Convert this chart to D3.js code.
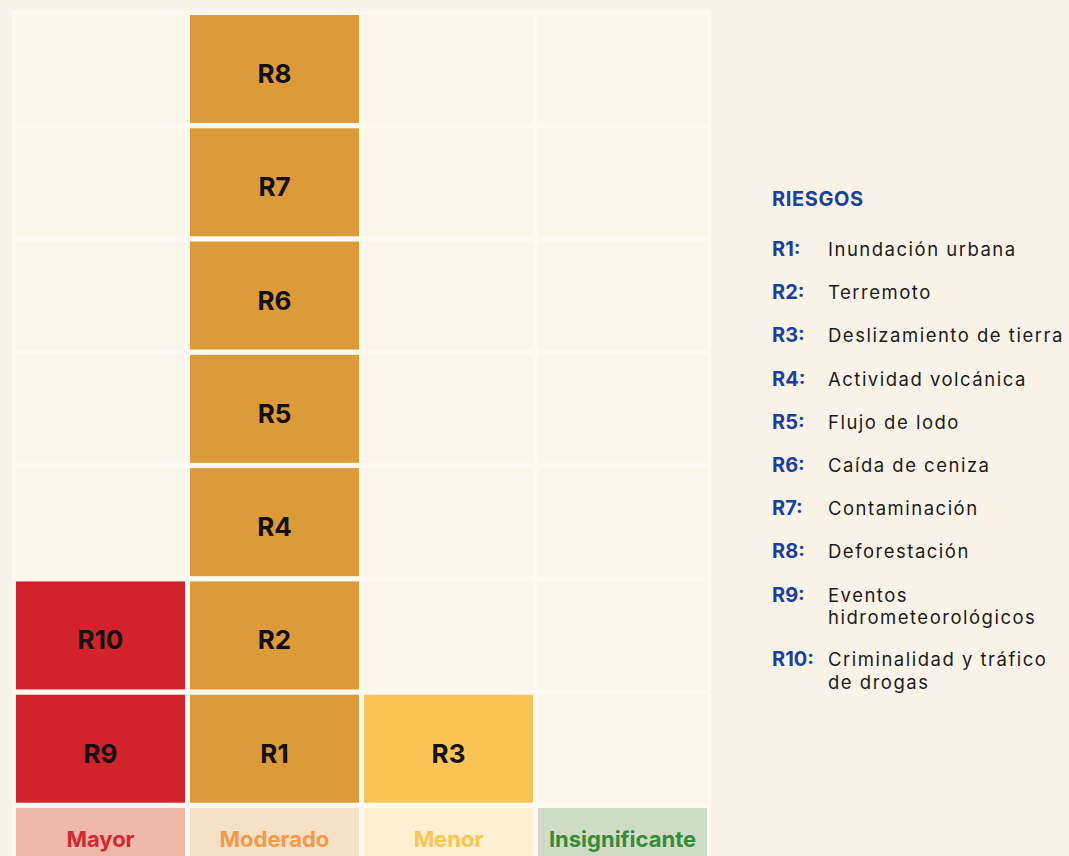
<!DOCTYPE html>
<html>
<head>
<meta charset="utf-8">
<script src="https://cdn.jsdelivr.net/npm/d3@7"></script>
<style>
  html, body { margin: 0; padding: 0; background: #FAF4E8; }
  svg { display: block; }
</style>
</head>
<body>
<svg id="chart" width="1069" height="856"></svg>
<script>
// Impact categories (columns) and stacking levels (rows, 1 = bottom)
const impacts = ["Mayor", "Moderado", "Menor", "Insignificante"];
const levels = [1, 2, 3, 4, 5, 6, 7];

// Risks: code, description lines, impact column, stacking level
const riskCodes = ["R1", "R2", "R3", "R4", "R5", "R6", "R7", "R8", "R9", "R10"];
const riskNames = [
  ["Inundación urbana"],
  ["Terremoto"],
  ["Deslizamiento de tierra"],
  ["Actividad volcánica"],
  ["Flujo de lodo"],
  ["Caída de ceniza"],
  ["Contaminación"],
  ["Deforestación"],
  ["Eventos", "hidrometeorológicos"],
  ["Criminalidad y tráfico", "de drogas"]
];
const riskImpact = ["Moderado", "Moderado", "Menor", "Moderado", "Moderado",
                    "Moderado", "Moderado", "Moderado", "Mayor", "Mayor"];
const riskLevel = [1, 2, 1, 3, 4, 5, 6, 7, 1, 2];

const legendTitle = "RIESGOS";

// Palette per impact category
const cellFill = { "Mayor": "#D2222B", "Moderado": "#DC9A38", "Menor": "#F9C656", "Insignificante": "#CFDDC7" };
const headFill = { "Mayor": "#EEB9A8", "Moderado": "#F6E0C6", "Menor": "#FDEFCF", "Insignificante": "#CFDDC7" };
const headText = { "Mayor": "#D2282F", "Moderado": "#EE9B4B", "Menor": "#F9C656", "Insignificante": "#388A3A" };

const FONT = "Inter, Lato, sans-serif";
const svg = d3.select("#chart");

const x = d3.scaleBand().domain(impacts).range([16, 707]).paddingInner(5 / 174);
// Row bands: seven levels from the top down, then the category label row
const rowKeys = levels.slice().reverse().map(String).concat(["label"]);
const y = d3.scaleBand().domain(rowKeys).range([15, 916]).paddingInner(5.3 / 113.3);

// light grid backdrop behind the cells
svg.append("rect")
  .attr("x", x.range()[0] - 4).attr("y", y.range()[0] - 5)
  .attr("width", x.range()[1] - x.range()[0] + 8)
  .attr("height", 900)
  .attr("fill", "#FEFAF2");

// empty matrix cells
const grid = [];
impacts.forEach(c => levels.forEach(l => grid.push({ c, l })));
svg.append("g").selectAll("rect").data(grid).join("rect")
  .attr("x", d => x(d.c)).attr("y", d => y(String(d.l)))
  .attr("width", x.bandwidth()).attr("height", y.bandwidth())
  .attr("fill", "#FBF5EA");

// risk cells
const risks = riskCodes.map((code, i) => ({ code, impact: riskImpact[i], level: riskLevel[i] }));
const cells = svg.append("g").selectAll("g").data(risks).join("g");
cells.append("rect")
  .attr("x", d => x(d.impact)).attr("y", d => y(String(d.level)))
  .attr("width", x.bandwidth()).attr("height", y.bandwidth())
  .attr("fill", d => cellFill[d.impact]);
cells.append("text")
  .attr("x", d => x(d.impact) + x.bandwidth() / 2)
  .attr("y", d => y(String(d.level)) + y.bandwidth() / 2 + 14)
  .attr("text-anchor", "middle")
  .attr("font-family", FONT)
  .attr("font-weight", 700)
  .attr("font-size", 26)
  .attr("fill", "#111")
  .text(d => d.code);

// category label row
const heads = svg.append("g").selectAll("g").data(impacts).join("g");
heads.append("rect")
  .attr("x", d => x(d)).attr("y", y("label"))
  .attr("width", x.bandwidth()).attr("height", y.bandwidth())
  .attr("fill", d => headFill[d]);
heads.append("text")
  .attr("x", d => x(d) + x.bandwidth() / 2)
  .attr("y", y("label") + 39)
  .attr("text-anchor", "middle")
  .attr("font-family", FONT)
  .attr("font-weight", 700)
  .attr("font-size", 22)
  .attr("fill", d => headText[d])
  .text(d => d);

// legend
const legend = svg.append("g").attr("transform", "translate(772,0)");
legend.append("text")
  .attr("x", 0).attr("y", 206)
  .attr("font-family", FONT)
  .attr("font-weight", 700)
  .attr("font-size", 20)
  .attr("letter-spacing", 0.6)
  .attr("fill", "#1B3F9E")
  .text(legendTitle);

// item baselines: single-line items every 43px, R10 after the wrapped R9
const itemTop = riskCodes.map((c, i) => (i < 9 ? 256 + i * 43.2 : 666));
const items = legend.selectAll("g.item").data(riskCodes).join("g")
  .attr("class", "item")
  .attr("transform", (c, i) => `translate(0,${itemTop[i]})`);
items.append("text")
  .attr("font-family", FONT)
  .attr("font-weight", 700)
  .attr("font-size", 20)
  .attr("fill", "#1B3F9E")
  .text(c => c + ":");
items.each(function (c, i) {
  d3.select(this).selectAll("text.line").data(riskNames[i]).join("text")
    .attr("class", "line")
    .attr("x", 56)
    .attr("y", (d, j) => j * 22.5)
    .attr("font-family", FONT)
    .attr("font-weight", 400)
    .attr("font-size", 18.5)
    .attr("letter-spacing", 1.5)
    .attr("fill", "#1A1A1A")
    .text(d => d);
});
</script>
</body>
</html>
